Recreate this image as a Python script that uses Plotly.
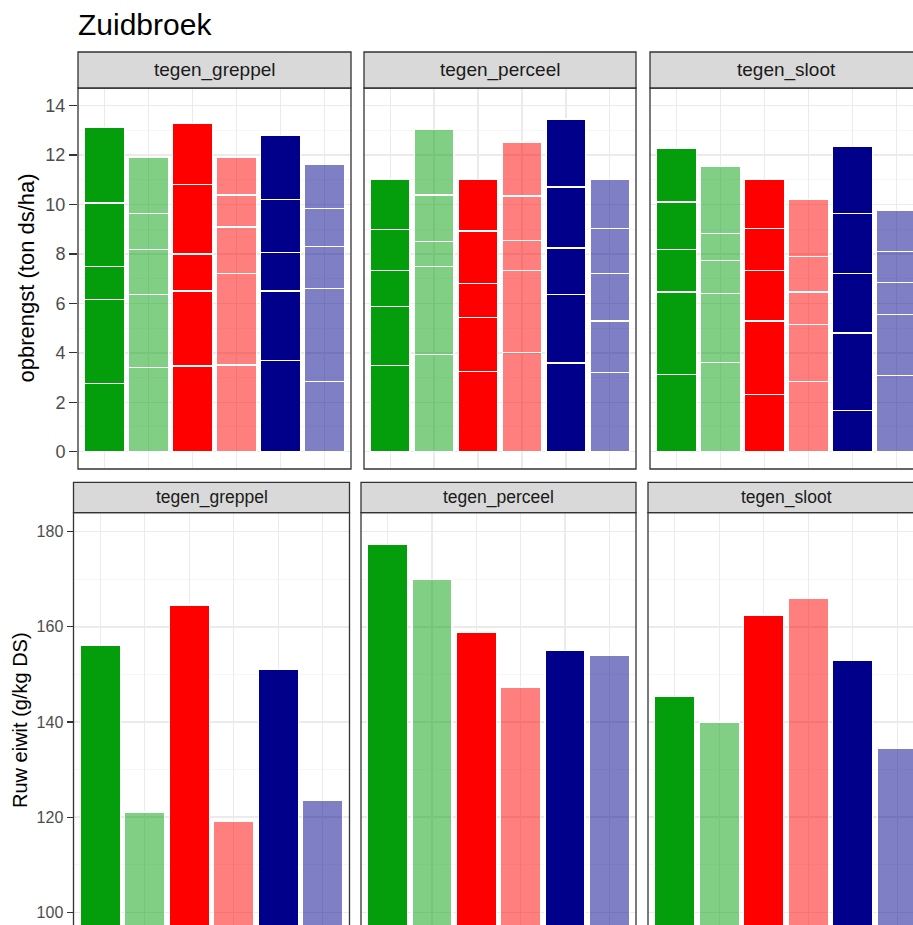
import plotly.graph_objects as go

# ---------------- data ----------------
locaties = ["tegen_greppel", "tegen_perceel", "tegen_sloot"]
behandelingen = ["B1", "B2", "B3", "B4", "B5", "B6"]
kleuren = ["rgb(4,158,12)", "rgba(4,158,12,0.5)", "rgb(255,0,0)",
           "rgba(255,0,0,0.5)", "rgb(0,0,139)", "rgba(0,0,139,0.5)"]

# opbrengst per snede (ton ds/ha), per behandeling, snede 1..5 (bottom -> top)
opbrengst_greppel = [
    [2.75, 3.41, 1.33, 2.57, 3.06],
    [3.41, 2.96, 1.82, 1.45, 2.27],
    [3.47, 3.03, 1.50, 2.82, 2.45],
    [3.51, 3.71, 1.87, 1.30, 1.52],
    [3.68, 2.82, 1.55, 2.16, 2.59],
    [2.85, 3.75, 1.70, 1.53, 1.78],
]
opbrengst_perceel = [
    [3.49, 2.40, 1.45, 1.64, 2.05],
    [3.92, 3.57, 1.02, 1.88, 2.65],
    [3.26, 2.16, 1.40, 2.11, 2.10],
    [4.02, 3.32, 1.21, 1.80, 2.18],
    [3.59, 2.76, 1.89, 2.47, 2.75],
    [3.22, 2.07, 1.91, 1.84, 1.99],
]
opbrengst_sloot = [
    [3.12, 3.34, 1.71, 1.93, 2.19],
    [3.60, 2.81, 1.32, 1.10, 2.70],
    [2.33, 2.96, 2.05, 1.68, 2.00],
    [2.85, 2.29, 1.32, 1.44, 2.32],
    [1.67, 3.13, 2.40, 2.43, 2.71],
    [3.08, 2.48, 1.29, 1.24, 1.68],
]
# ruw eiwit (g/kg DS)
eiwit_greppel = [156.0, 121.1, 164.6, 119.1, 151.1, 123.5]
eiwit_perceel = [177.3, 170.0, 158.9, 147.2, 155.0, 154.0]
eiwit_sloot = [145.4, 140.0, 162.5, 166.0, 152.9, 134.5]

opbrengst = [opbrengst_greppel, opbrengst_perceel, opbrengst_sloot]
eiwit = [eiwit_greppel, eiwit_perceel, eiwit_sloot]
y_ticks_top = [0, 2, 4, 6, 8, 10, 12, 14]
y_ticks_bot = [100, 120, 140, 160, 180]

# ---------------- layout geometry (window px) ----------------
W, H = 913, 925

def px(x):
    return x / W

def py(y):
    return 1 - y / H

X_MAX = W
Y_MAX = H

top_panels = [(78, 351), (364, 636), (650, 923)]
bot_panels = [(73.5, 349.5), (361, 636), (648, 924)]
top_y = (88, 469)
bot_y = (512.7, Y_MAX)
top_strip = (52, 88)
bot_strip = (482.3, 512.7)

# y scales: (value_a, pix_a, value_b, pix_b)
top_scale = (0, 451.7, 14, 105.7)
bot_scale = (100, 912.3, 180, 531.7)

def yrange(scale, y_top, y_bot):
    va, pa, vb, pb = scale
    k = (vb - va) / (pa - pb)  # units per px
    return [va - (y_bot - pa) * k, va + (pa - y_top) * k]

fig = go.Figure()
xpos = list(range(1, len(behandelingen) + 1))

layout = dict(
    width=W, height=H, margin=dict(l=0, r=0, t=0, b=0),
    plot_bgcolor="white", paper_bgcolor="white", showlegend=False,
    barmode="stack", font=dict(family="Liberation Sans, Arial", color="#4D4D4D"),
)
shapes = []
annotations = []

grid_major = "#EBEBEB"
grid_minor = "#F4F4F4"

def add_axes(idx, yr, pxrange, yticks, yrng, minor_dtick, show_left, tickfont, ticklen):
    x0, x1 = pxrange
    xdom_end = min(x1, X_MAX)
    lo, hi = 0.4, 6.6
    unit = (x1 - x0) / (hi - lo)
    vis_hi = lo + (xdom_end - x0) / unit
    xa = "xaxis" if idx == 1 else f"xaxis{idx}"
    ya = "yaxis" if idx == 1 else f"yaxis{idx}"
    layout[xa] = dict(domain=[px(x0), min(px(xdom_end), 1)], range=[lo, vis_hi],
                      anchor=("y" if idx == 1 else f"y{idx}"),
                      tickvals=xpos, showticklabels=False, ticks="",
                      showgrid=True, gridcolor=grid_major, gridwidth=1.4,
                      zeroline=False, showline=False, fixedrange=True)
    layout[ya] = dict(domain=[max(py(yr[1]), 0), py(yr[0])], range=yrng,
                      anchor=("x" if idx == 1 else f"x{idx}"),
                      tickvals=yticks, showticklabels=show_left,
                      ticks="outside" if show_left else "", ticklen=ticklen,
                      tickwidth=1.3, tickcolor="#333333",
                      tickfont=tickfont,
                      showgrid=True, gridcolor=grid_major, gridwidth=1.4,
                      minor=dict(dtick=minor_dtick, showgrid=True,
                                 gridcolor=grid_minor, gridwidth=0.8, ticks=""),
                      zeroline=False, showline=False, fixedrange=True)

# ---------- top row: stacked opbrengst ----------
for p in range(3):
    idx = p + 1
    add_axes(idx, top_y, top_panels[p], y_ticks_top,
             yrange(top_scale, *top_y), 1, p == 0,
             dict(size=18, color="#4D4D4D"), 8)
    data = opbrengst[p]
    n_snede = len(data[0])
    for s in range(n_snede):
        fig.add_trace(go.Bar(
            x=xpos, y=[bar[s] for bar in data], width=0.9,
            marker=dict(color=kleuren, line=dict(color="white", width=1.2)),
            xaxis="x" if idx == 1 else f"x{idx}",
            yaxis="y" if idx == 1 else f"y{idx}",
            hoverinfo="skip"))

# ---------- bottom row: ruw eiwit ----------
for p in range(3):
    idx = p + 4
    add_axes(idx, bot_y, bot_panels[p], y_ticks_bot,
             yrange(bot_scale, *bot_y), 10, p == 0,
             dict(size=16, color="#4D4D4D"), 6)
    fig.add_trace(go.Bar(
        x=xpos, y=eiwit[p], width=0.9,
        marker=dict(color=kleuren, line=dict(color="white", width=1.2)),
        xaxis=f"x{idx}", yaxis=f"y{idx}", hoverinfo="skip"))

# ---------- panel borders and strips ----------
for (panels, yr, strip, fsize) in [(top_panels, top_y, top_strip, 19),
                                   (bot_panels, bot_y, bot_strip, 17.5)]:
    for p, (x0, x1) in enumerate(panels):
        y_bottom = yr[1] if yr[1] < Y_MAX else Y_MAX + 10
        shapes.append(dict(type="rect", xref="paper", yref="paper",
                           x0=px(x0), x1=px(x1), y0=py(y_bottom), y1=py(yr[0]),
                           line=dict(color="#333333", width=1.3),
                           fillcolor="rgba(0,0,0,0)", layer="above"))
        shapes.append(dict(type="rect", xref="paper", yref="paper",
                           x0=px(x0), x1=px(x1), y0=py(strip[1]), y1=py(strip[0]),
                           line=dict(color="#333333", width=1.3),
                           fillcolor="#D9D9D9", layer="above"))
        annotations.append(dict(text=locaties[p], xref="paper", yref="paper",
                                x=px((x0 + x1) / 2), y=py((strip[0] + strip[1]) / 2),
                                xanchor="center", yanchor="middle", showarrow=False,
                                font=dict(size=fsize, color="#1A1A1A")))

annotations.append(dict(text="Zuidbroek", xref="paper", yref="paper",
                        x=px(76), y=py(25), xanchor="left", yanchor="middle",
                        showarrow=False, font=dict(size=30, color="black")))
annotations.append(dict(text="opbrengst (ton ds/ha)", xref="paper", yref="paper",
                        x=px(26), y=py(278.5), xanchor="center", yanchor="middle",
                        textangle=-90, showarrow=False,
                        font=dict(size=22, color="black")))
annotations.append(dict(text="Ruw eiwit (g/kg DS)", xref="paper", yref="paper",
                        x=px(20), y=py(720), xanchor="center", yanchor="middle",
                        textangle=-90, showarrow=False,
                        font=dict(size=20, color="black")))

layout["shapes"] = shapes
layout["annotations"] = annotations
fig.update_layout(**layout)
fig.write_html(
    "out.html",
    config={"displayModeBar": False, "staticPlot": True},
    post_script="document.body.style.margin='0';document.body.style.overflow='hidden';",
)
